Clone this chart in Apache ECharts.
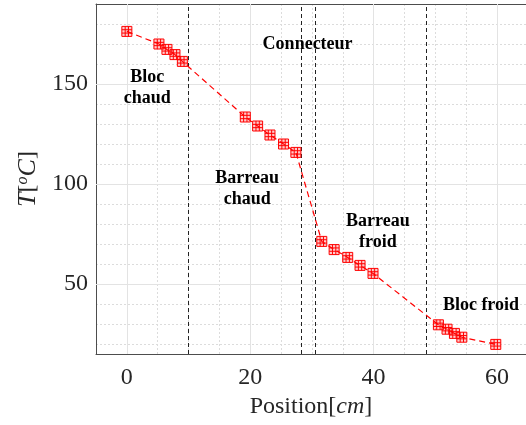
<!DOCTYPE html>
<html>
<head>
<meta charset="utf-8">
<script src="https://cdn.jsdelivr.net/npm/echarts@6/dist/echarts.min.js"></script>
<style>html,body{margin:0;padding:0;background:#fff;}#c{width:526px;height:425px;}</style>
</head>
<body>
<div id="c"></div>
<script>
// ---- data ----
const positions = [0, 5.2, 6.5, 7.8, 9.0, 19.2, 21.2, 23.2, 25.4, 27.4, 31.6, 33.6, 35.8, 37.8, 39.9, 50.5, 51.9, 53.1, 54.3, 59.8];
const temps = [176.3, 170.0, 167.3, 164.7, 161.3, 133.5, 129.0, 124.5, 120.0, 115.8, 71.3, 67.2, 63.3, 59.3, 55.3, 29.6, 27.4, 25.3, 23.4, 19.8];
const boundaries = [10, 28.2, 30.5, 48.6];
const xMajorTicks = [0, 20, 40, 60];
const yMajorTicks = [50, 100, 150];
const annotationTexts = ['Bloc\nchaud', 'Connecteur', 'Barreau\nchaud', 'Barreau\nfroid', 'Bloc froid'];
const annotationX = [3.3, 29.3, 19.5, 40.7, 57.4];
const annotationY = [148, 169.7, 97.8, 76.2, 39.2];

const serif = '"Liberation Serif", "Times New Roman", serif';
const red = '#ff0000';
const markerPath = 'path://M0,0L9,0L9,9L0,9Z M3,0L3,9 M6,0L6,9 M0,3L9,3 M0,6L9,6';

const chart = echarts.init(document.getElementById('c'), null, {renderer: 'canvas'});
const option = {
  animation: false,
  backgroundColor: '#fff',
  grid: {left: 96, right: 0, top: 4, bottom: 71, containLabel: false},
  xAxis: [{
    type: 'value', min: -5, max: 64.7, interval: 5, position: 'bottom',
    axisLine: {show: true, onZero: false, lineStyle: {color: '#4d4d4d', width: 1}},
    axisTick: {show: false},
    axisLabel: {
      margin: 12, color: '#262626', fontFamily: serif, fontSize: 24, showMaxLabel: false,
      formatter: v => (xMajorTicks.indexOf(v) >= 0 ? String(v) : '')
    },
    splitLine: {show: true, lineStyle: {color: '#dcdcdc', type: [2, 2], width: 1}},
    name: 'Position[{i|cm}]', nameLocation: 'middle', nameGap: 40,
    nameTextStyle: {
      color: '#262626', fontFamily: serif, fontSize: 24,
      rich: {i: {fontStyle: 'italic', fontFamily: serif, fontSize: 24, color: '#262626'}}
    }
  }, {
    type: 'value', min: -5, max: 64.7, interval: 5, position: 'top',
    axisLine: {show: true, onZero: false, lineStyle: {color: '#4d4d4d', width: 1}},
    axisTick: {show: false}, axisLabel: {show: false}, splitLine: {show: false}
  }],
  yAxis: [{
    type: 'value', min: 15, max: 190, interval: 5,
    axisLine: {show: true, onZero: false, lineStyle: {color: '#4d4d4d', width: 1}},
    axisTick: {show: false},
    axisLabel: {
      margin: 8, color: '#262626', fontFamily: serif, fontSize: 24,
      formatter: v => (yMajorTicks.indexOf(v) >= 0 ? String(v) : '')
    },
    splitLine: {show: true, lineStyle: {color: ['rgba(0,0,0,0)', '#dcdcdc'], type: [2, 2], width: 1}},
    name: '{i|T}[{sup|o}{i|C}]', nameLocation: 'middle', nameGap: 54, nameRotate: 90,
    nameTextStyle: {
      color: '#262626', fontFamily: serif, fontSize: 24,
      rich: {
        i: {fontStyle: 'italic', fontFamily: serif, fontSize: 26, color: '#262626'},
        sup: {fontStyle: 'italic', fontFamily: serif, fontSize: 16, color: '#262626', verticalAlign: 'top'}
      }
    }
  }],
  series: [
    {
      type: 'line', data: [], silent: true, z: 0, symbol: 'none',
      markLine: {
        silent: true, symbol: 'none', label: {show: false}, animation: false,
        lineStyle: {color: '#e3e3e3', type: 'solid', width: 1},
        data: xMajorTicks.map(v => ({xAxis: v})).concat(yMajorTicks.map(v => ({yAxis: v})))
      }
    },
    {
      type: 'line', data: [], silent: true, z: 1, symbol: 'none',
      markLine: {
        silent: true, symbol: 'none', label: {show: false}, animation: false,
        lineStyle: {color: '#222', type: [4, 3], width: 1},
        data: boundaries.map(v => ({xAxis: v}))
      }
    },
    {
      name: 'T', type: 'line', z: 5,
      data: positions.map((p, i) => [p, temps[i]]),
      lineStyle: {color: red, width: 1.2, type: [6, 4]},
      symbol: markerPath, symbolSize: 10,
      itemStyle: {color: 'rgba(255,0,0,0.2)', borderColor: red, borderWidth: 1},
      showAllSymbol: true
    },
    {
      type: 'scatter', z: 6, silent: true, symbolSize: 0,
      data: annotationTexts.map((t, i) => ({value: [annotationX[i], annotationY[i]], label: {formatter: t}})),
      label: {
        show: true, position: 'inside', color: '#000', fontFamily: serif, opacity: 1,
        fontWeight: 'bold', fontSize: 18, lineHeight: 21, align: 'center', verticalAlign: 'middle'
      }
    }
  ]
};
chart.setOption(option);
</script>
</body>
</html>
